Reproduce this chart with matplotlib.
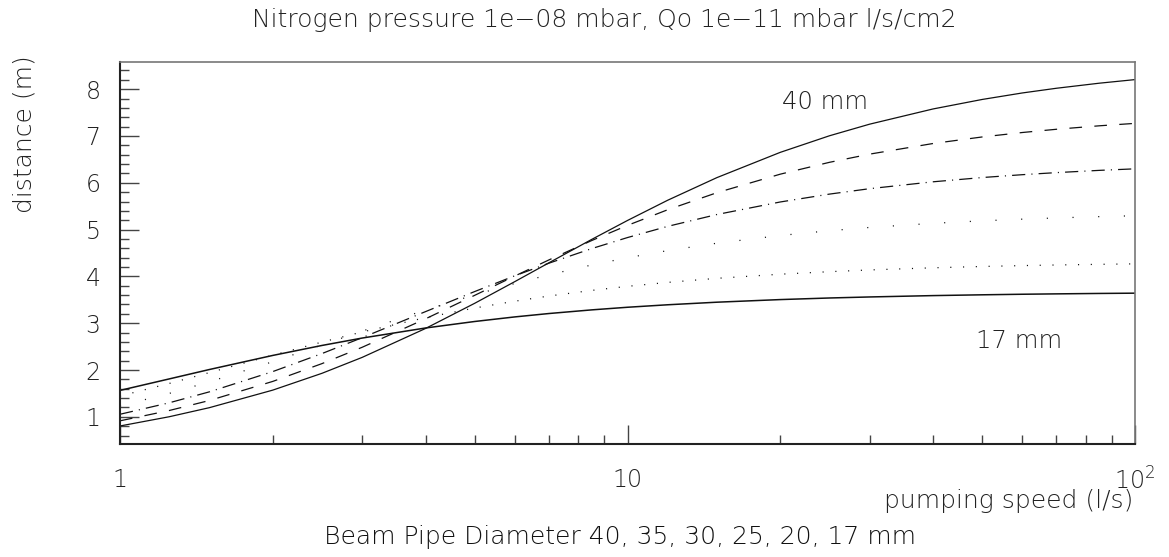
import matplotlib
matplotlib.use("Agg")
import matplotlib.pyplot as plt
from matplotlib.ticker import FixedLocator, FixedFormatter, MultipleLocator, NullFormatter

plt.rcParams['font.family'] = ['DejaVu Sans']
plt.rcParams['font.weight'] = 200
plt.rcParams['mathtext.default'] = 'regular'
plt.rcParams['lines.scale_dashes'] = False

# pumping speed (l/s)
speed = [1, 1.25, 1.5, 2, 2.5, 3, 4, 5, 6, 7, 8.5, 10, 12, 15, 20, 25, 30, 40, 50, 60, 70, 85, 100]
# distance between pumps (m) for each beam pipe diameter
d40 = [0.805, 1.002, 1.196, 1.571, 1.930, 2.270, 2.888, 3.426, 3.890, 4.290, 4.790, 5.195,
       5.627, 6.110, 6.650, 7.004, 7.252, 7.577, 7.780, 7.919, 8.019, 8.127, 8.204]
d35 = [0.915, 1.135, 1.349, 1.757, 2.137, 2.486, 3.094, 3.596, 4.009, 4.352, 4.766, 5.090,
       5.424, 5.788, 6.184, 6.437, 6.612, 6.839, 6.979, 7.074, 7.143, 7.217, 7.269]
d30 = [1.055, 1.300, 1.534, 1.967, 2.352, 2.691, 3.248, 3.677, 4.014, 4.282, 4.594, 4.830,
       5.069, 5.322, 5.590, 5.758, 5.874, 6.021, 6.112, 6.173, 6.217, 6.265, 6.298]
d25 = [1.233, 1.500, 1.747, 2.178, 2.536, 2.831, 3.283, 3.607, 3.849, 4.034, 4.244, 4.399,
       4.551, 4.709, 4.874, 4.976, 5.046, 5.134, 5.187, 5.223, 5.249, 5.277, 5.296]
d20 = [1.444, 1.713, 1.945, 2.317, 2.597, 2.813, 3.119, 3.325, 3.471, 3.581, 3.701, 3.788,
       3.872, 3.959, 4.047, 4.101, 4.138, 4.184, 4.212, 4.231, 4.244, 4.258, 4.268]
d17 = [1.565, 1.810, 2.011, 2.312, 2.525, 2.683, 2.898, 3.037, 3.135, 3.207, 3.285, 3.341,
       3.394, 3.449, 3.505, 3.539, 3.561, 3.590, 3.607, 3.619, 3.627, 3.636, 3.642]

title = "Nitrogen pressure 1e\u221208 mbar, Qo 1e\u221211 mbar l/s/cm2"
bottom_text = "Beam Pipe Diameter 40, 35, 30, 25, 20, 17 mm"
xlabel = "pumping speed (l/s)"
ylabel = "distance (m)"
xtick_vals = [1, 10, 100]
xtick_labels = ["1", "10", r"$10^{2}$"]
ytick_vals = [1, 2, 3, 4, 5, 6, 7, 8]

W, H = 1169, 557
fig = plt.figure(figsize=(W / 100, H / 100), dpi=100)
L, R, T, B = 120, 1135, 62, 444
ax = fig.add_axes([L / W, 1 - B / H, (R - L) / W, (B - T) / H])

ax.set_xscale('log')
ax.set_xlim(1, 100)
ax.set_ylim(0.42, 8.58)

c = '#111111'
ax.plot(speed, d40, color=c, lw=0.9, ls='-')
ax.plot(speed, d35, color=c, lw=0.9, ls=(0, (9.1, 8.9)))
ax.plot(speed, d30, color=c, lw=0.9, ls=(0, (9.5, 4.4, 0.8, 4.4)))
ax.plot(speed, d25, color=c, lw=0.9, ls=(0, (0.8, 17.7)))
ax.plot(speed, d20, color=c, lw=0.9, ls=(0, (0.8, 8.4)))
ax.plot(speed, d17, color=c, lw=1.1, ls='-')

ax.text(20.2, 7.72, "40 mm", fontsize=17.5, ha='left', va='center', color='#222222')
ax.text(48.6, 2.62, "17 mm", fontsize=17.5, ha='left', va='center', color='#222222')

for s in ['left', 'bottom']:
    ax.spines[s].set_linewidth(1.5)
    ax.spines[s].set_color('#222222')
for s in ['top', 'right']:
    ax.spines[s].set_linewidth(1.2)
    ax.spines[s].set_color('#777777')

ax.xaxis.set_major_locator(FixedLocator(xtick_vals))
ax.xaxis.set_major_formatter(FixedFormatter(xtick_labels))
ax.xaxis.set_minor_locator(FixedLocator([m * 10 ** e for e in (0, 1) for m in range(2, 10)]))
ax.xaxis.set_minor_formatter(NullFormatter())
ax.yaxis.set_major_locator(FixedLocator(ytick_vals))
ax.yaxis.set_minor_locator(MultipleLocator(0.2))

ax.tick_params(axis='both', which='both', direction='in', top=False, right=False, color='#444444')
ax.tick_params(axis='both', which='major', length=13.5, width=1.0, labelsize=17, labelcolor='#222222')
ax.tick_params(axis='both', which='minor', length=6.8, width=1.0)
ax.tick_params(axis='x', which='major', pad=17)
ax.tick_params(axis='y', which='major', pad=14)

fig.text(604 / W, 1 - 27 / H, title, fontsize=18, ha='center', va='baseline', color='#222222')
fig.text(620 / W, 1 - 544 / H, bottom_text, fontsize=18, ha='center', va='baseline', color='#111111')
fig.text(1133 / W, 1 - 508 / H, xlabel, fontsize=18, ha='right', va='baseline', color='#222222')
fig.text(25 / W, 1 - 55 / H, ylabel, fontsize=18, rotation=90, ha='center', va='top', color='#222222')

fig.savefig("out.png", dpi=100)
